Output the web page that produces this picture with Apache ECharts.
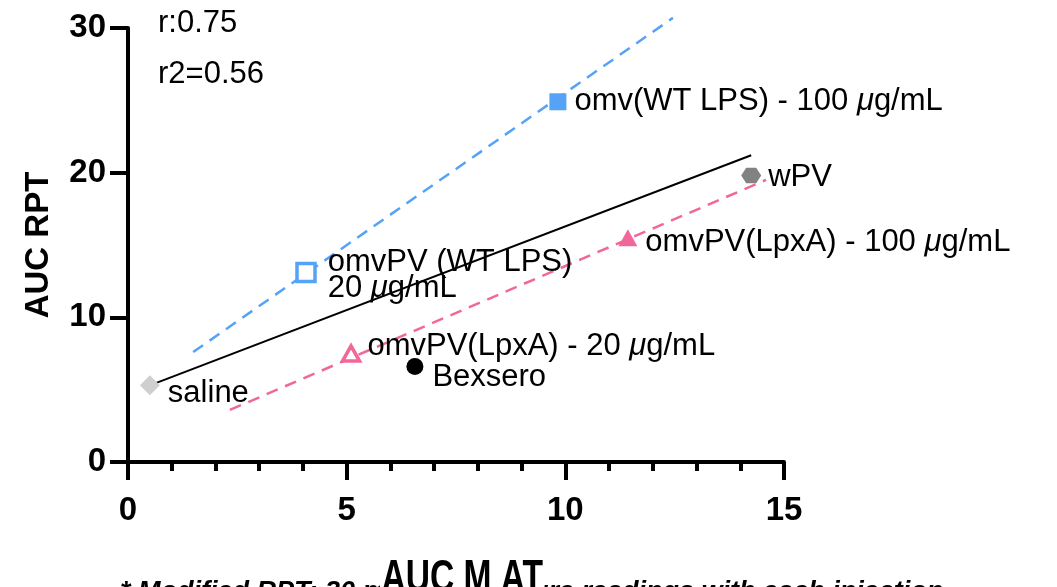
<!DOCTYPE html>
<html>
<head>
<meta charset="utf-8">
<script src="https://cdn.jsdelivr.net/npm/echarts@6/dist/echarts.min.js"></script>
<style>
html,body{margin:0;padding:0;background:#fff;}
#chart{width:1057px;height:587px;}
</style>
</head>
<body>
<div id="chart"></div>
<script>
// ---- data ----
const pointNames = ['saline', 'omvPV (WT LPS)\n20 μg/mL', 'omv(WT LPS) - 100 μg/mL', 'wPV', 'omvPV(LpxA) - 100 μg/mL', 'omvPV(LpxA) - 20 μg/mL', 'Bexsero'];
const pointX = [0.5, 4.07, 9.83, 14.25, 11.43, 5.1, 6.56];
const pointY = [5.3, 13.1, 24.9, 19.8, 15.5, 7.5, 6.6];

const fitAllX = [0.5, 14.25];
const fitAllY = [5.3, 21.2];
const fitWtX = [1.49, 12.46];
const fitWtY = [7.6, 30.7];
const fitLpxX = [2.33, 14.59];
const fitLpxY = [3.6, 19.5];

const xTicks = [0, 5, 10, 15];
const yTicks = [0, 10, 20, 30];
const statsText = ['r:0.75', 'r2=0.56'];
const xTitle = 'AUC M AT';
const yTitle = 'AUC RPT';
const footnote = '* Modified RPT: 30 min temperature readings with each injection';

// ---- styles (kept separate from data) ----
const BLUE = '#55a2f7';
const PINK = '#f2679a';
const FONT = '"Liberation Sans", Arial, Helvetica, sans-serif';
const pointStyles = [
  {symbol: 'diamond', size: [20, 20], color: '#cfcfcf', border: null, dist: 8, off: [0, 8]},
  {symbol: 'rect', size: 18, color: '#ffffff', border: BLUE, bw: 3.5, dist: 11, off: [0, 3]},
  {symbol: 'rect', size: 17, color: BLUE, border: null, dist: 8, off: [0, 0]},
  {symbol: 'path://M0,5L2.887,0L8.66,0L11.547,5L8.66,10L2.887,10Z', size: [20, 18], color: '#828282', border: null, dist: 7, off: [0, 2]},
  {symbol: 'triangle', size: [19, 17], color: PINK, border: null, dist: 8, off: [0, 5]},
  {symbol: 'triangle', size: [17, 15], color: '#ffffff', border: PINK, bw: 3.5, dist: 6, off: [0, -7]},
  {symbol: 'circle', size: 17, color: '#000000', border: null, dist: 9, off: [0, 11]}
];

function richName(n) { return n.replace(/μ/g, '{i|μ}'); }

const pointData = pointX.map((x, i) => {
  const s = pointStyles[i];
  return {
    value: [x, pointY[i]],
    name: pointNames[i],
    symbol: s.symbol,
    symbolSize: s.size,
    symbolKeepAspect: true,
    itemStyle: {color: s.color, opacity: 1, borderColor: s.border || s.color, borderWidth: s.border ? s.bw : 0},
    label: {
      show: true, position: 'right', distance: s.dist, offset: s.off,
      formatter: richName(pointNames[i]),
      color: '#000', fontSize: 31, fontFamily: FONT, lineHeight: 26,
      rich: {i: {fontStyle: 'italic', fontSize: 31, fontFamily: FONT, color: '#000', lineHeight: 26}}
    }
  };
});

function lineData(xs, ys) { return xs.map((x, i) => [x, ys[i]]); }

const chart = echarts.init(document.getElementById('chart'), null, {renderer: 'canvas'});
chart.setOption({
  animation: false,
  backgroundColor: '#fff',
  grid: {left: 128, right: 273, top: 28, bottom: 125, containLabel: false},
  xAxis: {
    type: 'value', min: xTicks[0], max: xTicks[xTicks.length - 1], interval: 5,
    axisLine: {show: true, onZero: false, lineStyle: {color: '#000', width: 4}},
    axisTick: {show: true, length: 18, lineStyle: {color: '#000', width: 4}},
    minorTick: {show: true, splitNumber: 5, length: 9, lineStyle: {color: '#000', width: 4}},
    splitLine: {show: false},
    axisLabel: {color: '#000', fontSize: 33, fontWeight: 'bold', fontFamily: FONT, margin: 32}
  },
  yAxis: {
    type: 'value', min: yTicks[0], max: yTicks[yTicks.length - 1], interval: 10,
    name: yTitle, nameLocation: 'middle', nameRotate: 90, nameGap: 73,
    nameTextStyle: {color: '#000', fontSize: 33, fontWeight: 'bold', fontFamily: FONT},
    axisLine: {show: true, onZero: false, lineStyle: {color: '#000', width: 4}},
    axisTick: {show: true, length: 18, lineStyle: {color: '#000', width: 4}},
    splitLine: {show: false},
    axisLabel: {color: '#000', fontSize: 33, fontWeight: 'bold', fontFamily: FONT, margin: 22}
  },
  graphic: [
    {type: 'text', left: 158, top: 8, style: {text: statsText[0], fontSize: 31, fontFamily: FONT, fill: '#000'}},
    {type: 'text', left: 158, top: 59, style: {text: statsText[1], fontSize: 31, fontFamily: FONT, fill: '#000'}},
    {type: 'text', left: 120, top: 579, style: {text: footnote, fontSize: 27, fontStyle: 'italic', fontWeight: 'bold', fontFamily: FONT, fill: '#000'}},
    {type: 'text', x: 380, y: 556, scaleX: 0.73, z: 100, style: {text: xTitle, fontSize: 46, fontWeight: 'bold', fontFamily: FONT, fill: '#000', backgroundColor: '#fff', padding: [0, 2, 0, 2]}}
  ],
  series: [
    {type: 'line', data: lineData(fitAllX, fitAllY), symbol: 'none', clip: false, lineStyle: {color: '#000', width: 2}, z: 1},
    {type: 'line', data: lineData(fitWtX, fitWtY), symbol: 'none', clip: false, lineStyle: {color: BLUE, width: 2.5, type: [12, 8]}, z: 1},
    {type: 'line', data: lineData(fitLpxX, fitLpxY), symbol: 'none', clip: false, lineStyle: {color: PINK, width: 2.5, type: [12, 8]}, z: 1},
    {type: 'scatter', data: pointData, clip: false, z: 3}
  ]
});
</script>
</body>
</html>
